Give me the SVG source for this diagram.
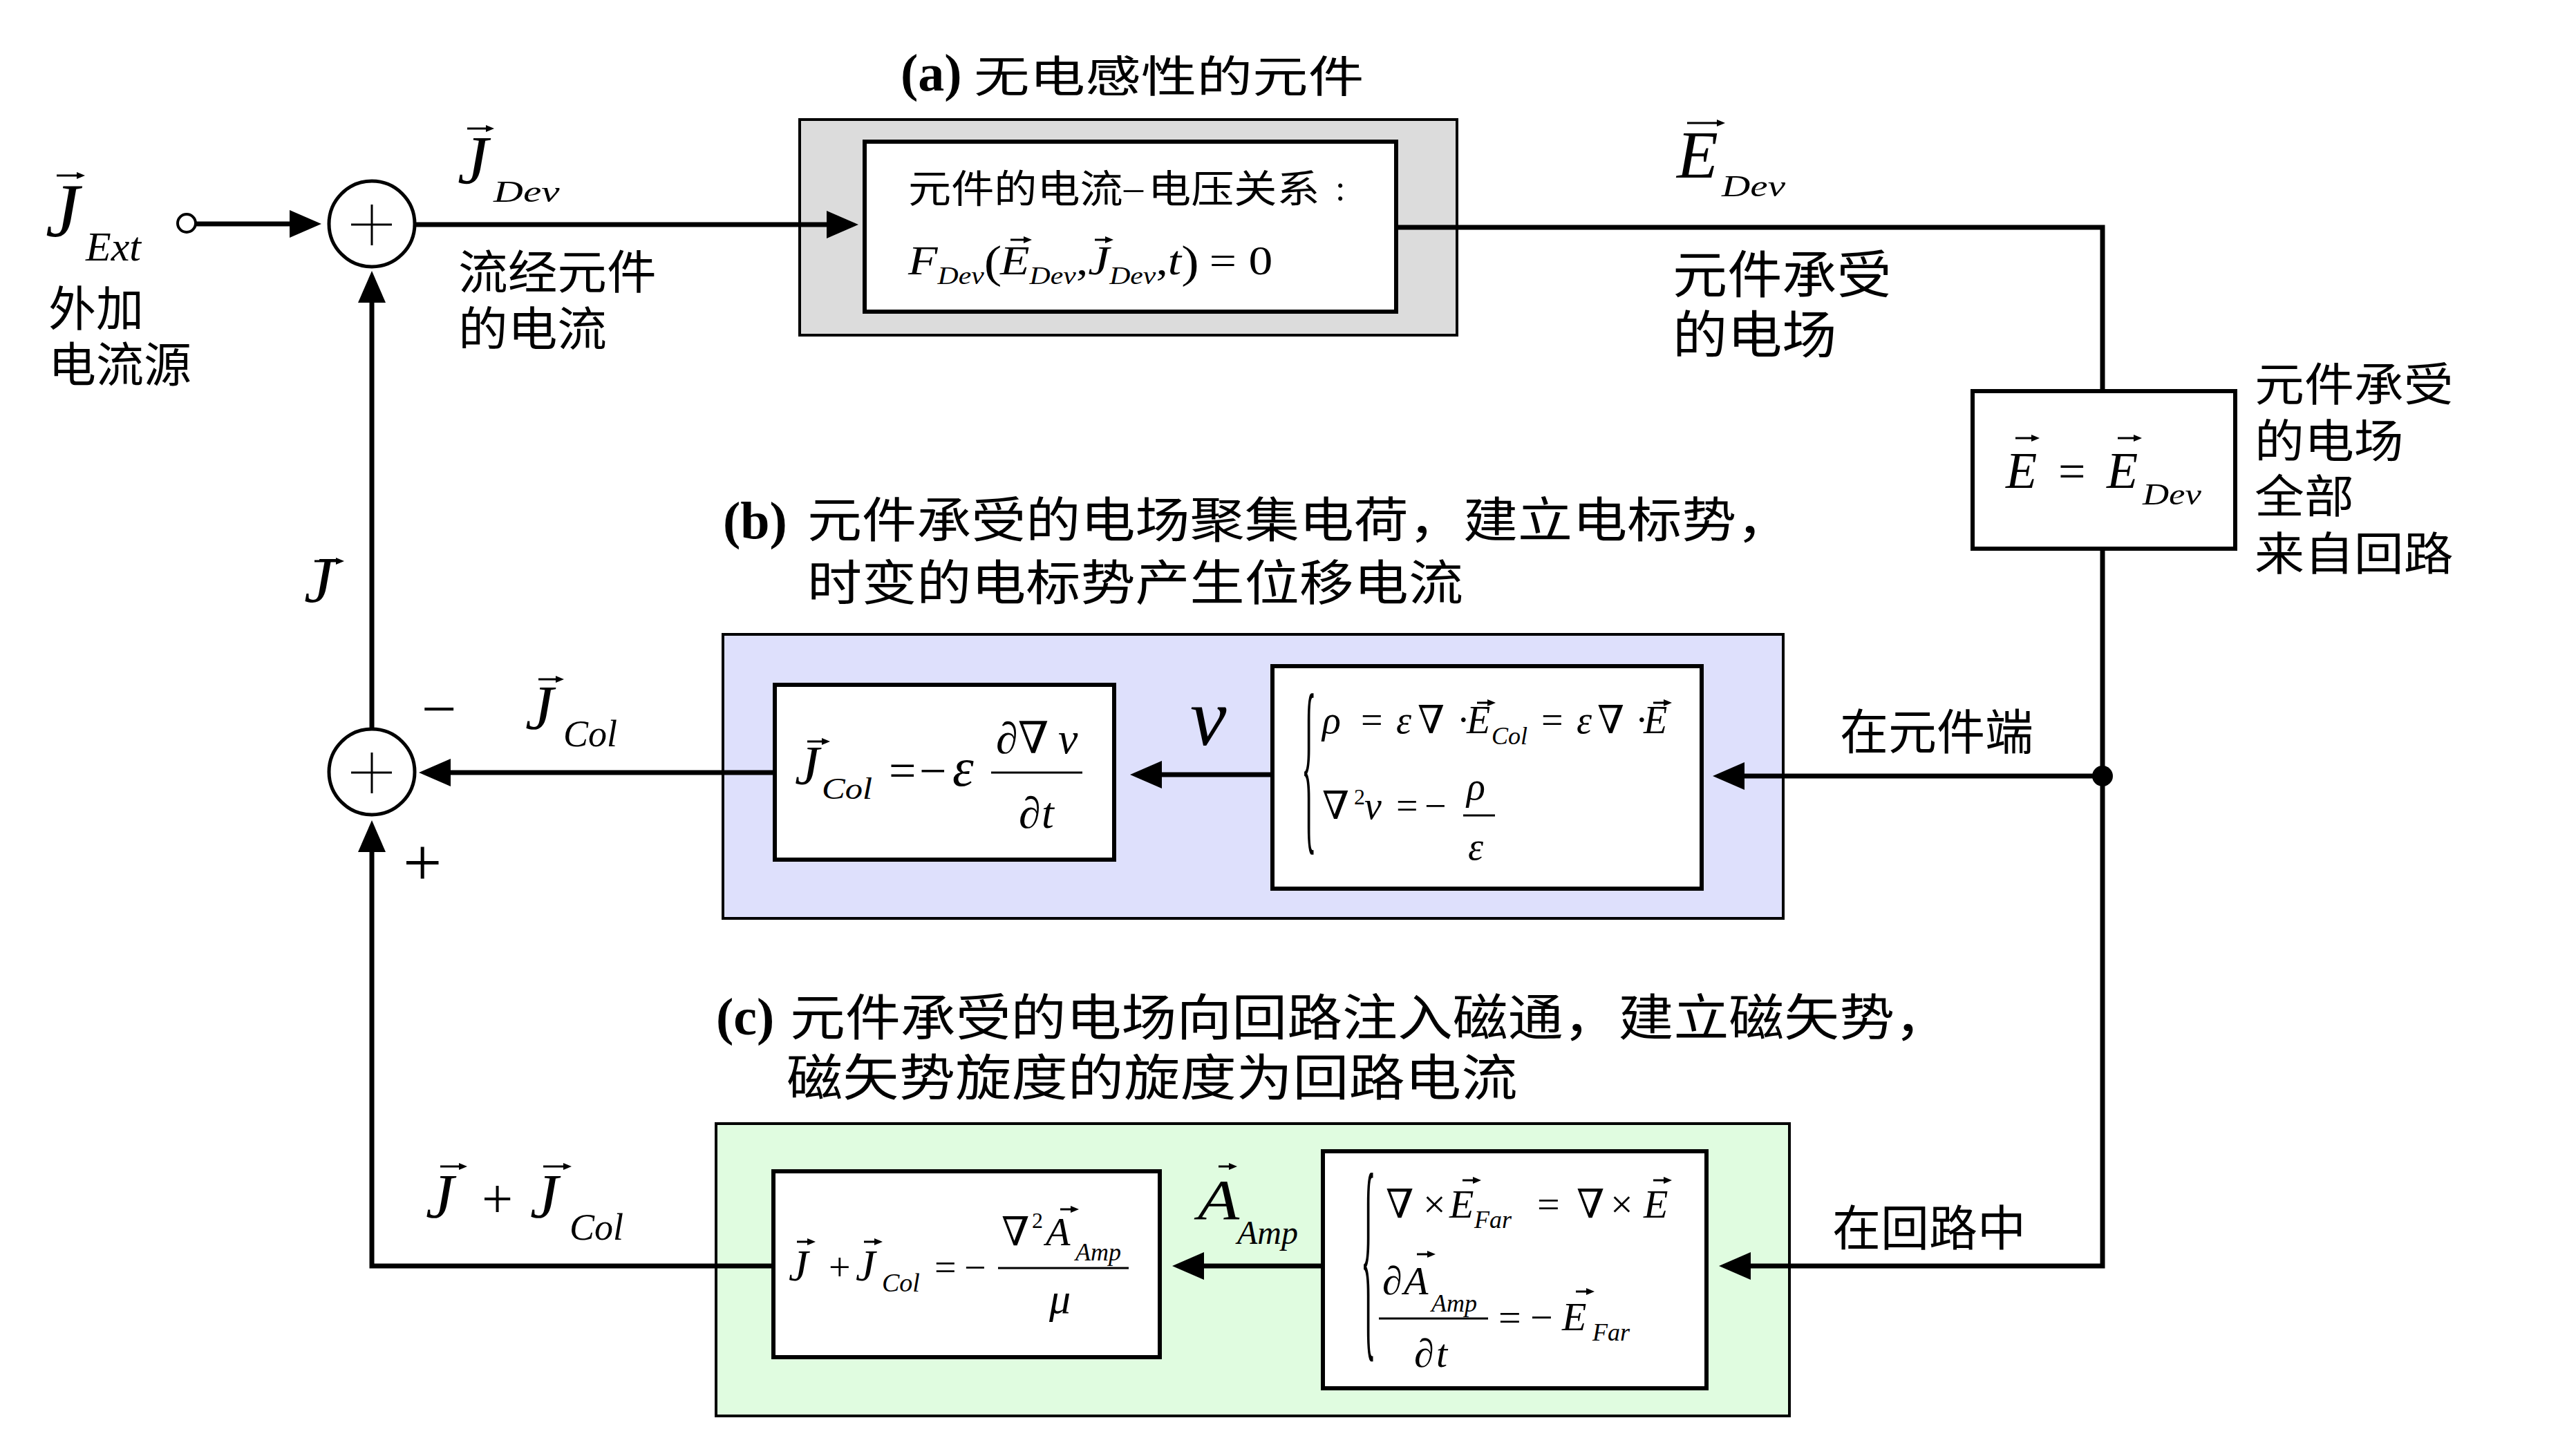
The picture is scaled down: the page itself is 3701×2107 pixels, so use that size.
<svg xmlns="http://www.w3.org/2000/svg" width="3701" height="2107" viewBox="0 0 3701 2107">
<defs>
<style>
.cn{font-family:"Noto Sans CJK SC",sans-serif;fill:#000}
.mi{font-family:"Liberation Serif","DejaVu Serif",serif;font-style:italic;fill:#000}
.mr{font-family:"Liberation Serif","DejaVu Serif",serif;fill:#000}
.tb{font-family:"Liberation Serif",serif;font-weight:bold;fill:#000}
.conn{fill:none;stroke:#000;stroke-width:7}
.vec{fill:none;stroke:#000;stroke-width:3}
.bar{fill:none;stroke:#000;stroke-width:3}
.outer{stroke:#000;stroke-width:4}
.inner{fill:#fff;stroke:#000;stroke-width:6}
.sum{fill:#fff;stroke:#000;stroke-width:5}
</style>
<marker id="arr" markerUnits="userSpaceOnUse" markerWidth="46" markerHeight="40" refX="0" refY="20" orient="auto" viewBox="0 0 46 40"><path d="M0 0L46 20L0 40Z" fill="#000"/></marker>
<marker id="vt" markerUnits="userSpaceOnUse" markerWidth="12" markerHeight="10" refX="1" refY="5" orient="auto" viewBox="0 0 12 10"><path d="M0 0L12 5L0 10Z" fill="#000"/></marker>
</defs>
<rect width="3701" height="2107" fill="#fff"/>

<!-- Block (a) -->
<g id="node-a">
<rect x="1157" y="173" width="951" height="312" fill="#dcdcdc" class="outer"/>
<rect x="1251" y="205" width="769" height="246" class="inner"/>
<text class="cn" font-size="56" transform="translate(1314,293) scale(1.11,1)">元件的电流</text>
<text class="mr" font-size="56" x="1626" y="290">–</text>
<text class="cn" font-size="56" transform="translate(1661,293) scale(1.11,1)">电压关系</text>
<text class="mr" font-size="52" x="1932" y="290">:</text>
<g transform="translate(1314,397) scale(1.16,1)">
<text class="mi" font-size="60" x="0" y="0">F</text>
<text class="mi" font-size="36" x="36.7" y="14">Dev</text>
<text class="mr" font-size="66" x="94.7" y="4">(</text>
<text class="mi" font-size="60" x="114.7" y="0">E</text>
<text class="mi" font-size="36" x="151.4" y="14">Dev</text>
<text class="mr" font-size="60" x="209.4" y="0">,</text>
<text class="mi" font-size="60" x="224.4" y="0">J</text>
<text class="mi" font-size="36" x="251" y="14">Dev</text>
<text class="mr" font-size="60" x="309" y="0">,</text>
<text class="mi" font-size="60" x="324" y="0">t</text>
<text class="mr" font-size="66" x="340.7" y="4">)</text>
<text class="mr" font-size="60" x="375.7" y="0">=</text>
<text class="mr" font-size="60" x="424.5" y="0">0</text>
</g>
<path class="vec" d="M1462 347h20" marker-end="url(#vt)"/>
<path class="vec" d="M1584 347h16" marker-end="url(#vt)"/>
</g>

<!-- E box -->
<g id="node-ebox">
<rect x="2854" y="566" width="380" height="228" fill="#fff" stroke="#000" stroke-width="6"/>
<text class="mi" font-size="74" x="2902" y="706">E</text>
<text class="mr" font-size="70" x="2978" y="706">=</text>
<text class="mi" font-size="74" x="3048" y="706">E</text>
<text class="mi" font-size="44" transform="translate(3100,730) scale(1.2,1)">Dev</text>
<path class="vec" d="M2916 634h24" marker-end="url(#vt)"/>
<path class="vec" d="M3064 634h24" marker-end="url(#vt)"/>
</g>

<!-- Block (b) -->
<g id="node-b">
<rect x="1046" y="918" width="1534" height="411" fill="#dee0fc" class="outer"/>
<rect x="1121" y="991" width="491" height="253" class="inner"/>
<rect x="1841" y="964" width="621" height="322" class="inner"/>
<text class="mi" font-size="80" x="1150" y="1135">J</text>
<text class="mi" font-size="44" transform="translate(1189,1156) scale(1.15,1)">Col</text>
<path class="vec" d="M1168 1073h22" marker-end="url(#vt)"/>
<text class="mr" font-size="70" x="1286" y="1139">=</text>
<text class="mr" font-size="70" x="1330" y="1139">−</text>
<text class="mi" font-size="78" x="1378" y="1137">ε</text>
<path class="bar" d="M1434 1118H1566"/>
<text class="mr" font-size="64" x="1441" y="1090">∂∇</text>
<text class="mi" font-size="64" x="1531" y="1090">v</text>
<text class="mr" font-size="64" x="1474" y="1198">∂</text>
<text class="mi" font-size="64" x="1507" y="1198">t</text>
<text class="mr" font-size="60" transform="translate(1883,1199) scale(0.75,4.7)">{</text>
<text class="mi" font-size="56" x="1913" y="1061">ρ</text>
<text class="mr" font-size="56" x="1969" y="1061">=</text>
<text class="mi" font-size="56" x="2020" y="1061">ε</text>
<text class="mr" font-size="56" x="2051" y="1061">∇</text>
<text class="mr" font-size="56" x="2108" y="1061">·</text>
<text class="mi" font-size="56" x="2122" y="1061">E</text>
<text class="mi" font-size="36" x="2158" y="1077">Col</text>
<text class="mr" font-size="56" x="2230" y="1061">=</text>
<text class="mi" font-size="56" x="2281" y="1061">ε</text>
<text class="mr" font-size="56" x="2311" y="1061">∇</text>
<text class="mr" font-size="56" x="2366" y="1061">·</text>
<text class="mi" font-size="56" x="2378" y="1061">E</text>
<path class="vec" d="M2137 1017h16" marker-end="url(#vt)"/>
<path class="vec" d="M2392 1017h16" marker-end="url(#vt)"/>
<text class="mr" font-size="56" x="1913" y="1185">∇</text>
<text class="mr" font-size="32" x="1959" y="1164">2</text>
<text class="mi" font-size="56" x="1974" y="1185">v</text>
<text class="mr" font-size="56" x="2020" y="1185">=</text>
<text class="mr" font-size="56" x="2061" y="1185">−</text>
<path class="bar" d="M2117 1180H2163"/>
<text class="mi" font-size="56" x="2122" y="1157">ρ</text>
<text class="mi" font-size="56" x="2124" y="1244">ε</text>
</g>

<!-- Block (c) -->
<g id="node-c">
<rect x="1036" y="1626" width="1553" height="423" fill="#e0fce0" class="outer"/>
<rect x="1119" y="1695" width="559" height="269" class="inner"/>
<rect x="1914" y="1666" width="555" height="343" class="inner"/>
<text class="mi" font-size="64" x="1141" y="1853">J</text>
<text class="mr" font-size="56" x="1199" y="1853">+</text>
<text class="mi" font-size="64" x="1238" y="1853">J</text>
<text class="mi" font-size="38" x="1276" y="1869">Col</text>
<path class="vec" d="M1153 1797h16" marker-end="url(#vt)"/>
<path class="vec" d="M1250 1797h16" marker-end="url(#vt)"/>
<text class="mr" font-size="56" x="1352" y="1853">=</text>
<text class="mr" font-size="56" x="1395" y="1853">−</text>
<path class="bar" d="M1444 1835H1633"/>
<text class="mr" font-size="58" x="1449" y="1802">∇</text>
<text class="mr" font-size="32" x="1493" y="1777">2</text>
<text class="mi" font-size="58" x="1513" y="1802">A</text>
<text class="mi" font-size="36" x="1556" y="1824">Amp</text>
<path class="vec" d="M1534 1750h16" marker-end="url(#vt)"/>
<text class="mi" font-size="62" x="1518" y="1900">μ</text>
<text class="mr" font-size="60" transform="translate(1969,1926) scale(0.75,5.5)">{</text>
<text class="mr" font-size="58" x="2005" y="1762">∇</text>
<text class="mr" font-size="58" x="2059" y="1762">×</text>
<text class="mi" font-size="58" x="2097" y="1762">E</text>
<text class="mi" font-size="36" x="2133" y="1777">Far</text>
<text class="mr" font-size="58" x="2224" y="1762">=</text>
<text class="mr" font-size="58" x="2281" y="1762">∇</text>
<text class="mr" font-size="58" x="2330" y="1762">×</text>
<text class="mi" font-size="58" x="2378" y="1762">E</text>
<path class="vec" d="M2116 1708h16" marker-end="url(#vt)"/>
<path class="vec" d="M2392 1708h16" marker-end="url(#vt)"/>
<text class="mr" font-size="58" x="2000" y="1873">∂</text>
<text class="mi" font-size="58" x="2031" y="1873">A</text>
<text class="mi" font-size="36" x="2071" y="1898">Amp</text>
<path class="vec" d="M2050 1815h16" marker-end="url(#vt)"/>
<path class="bar" d="M1995 1908H2153"/>
<text class="mr" font-size="58" x="2046" y="1978">∂</text>
<text class="mi" font-size="58" x="2078" y="1978">t</text>
<text class="mr" font-size="58" x="2168" y="1926">=</text>
<text class="mr" font-size="58" x="2214" y="1926">−</text>
<text class="mi" font-size="58" x="2260" y="1925">E</text>
<text class="mi" font-size="36" x="2304" y="1940">Far</text>
<path class="vec" d="M2280 1869h16" marker-end="url(#vt)"/>
</g>

<!-- Summing junctions -->
<g id="node-sum1">
<circle cx="538" cy="324" r="62" class="sum"/>
<path d="M508 325H567M538 296V355" stroke="#000" stroke-width="3"/>
</g>
<g id="node-sum2">
<circle cx="538" cy="1117" r="62" class="sum"/>
<path d="M508 1118H567M538 1089V1148" stroke="#000" stroke-width="3"/>
</g>

<!-- Connectors -->
<g id="connectors">
<circle cx="270" cy="323" r="13" fill="#fff" stroke="#000" stroke-width="4"/>
<path class="conn" d="M283 324H419" marker-end="url(#arr)"/>
<path class="conn" d="M600 325H1196" marker-end="url(#arr)"/>
<path class="conn" d="M2020 329H3042V566"/>
<path class="conn" d="M3042 794V1832H2533" marker-end="url(#arr)"/>
<circle cx="3042" cy="1123" r="15" fill="#000"/>
<path class="conn" d="M3042 1123H2524" marker-end="url(#arr)"/>
<path class="conn" d="M1841 1121H1681" marker-end="url(#arr)"/>
<path class="conn" d="M1121 1118H652" marker-end="url(#arr)"/>
<path class="conn" d="M1914 1832H1742" marker-end="url(#arr)"/>
<path class="conn" d="M1119 1832H538V1233" marker-end="url(#arr)"/>
<path class="conn" d="M538 1055V438" marker-end="url(#arr)"/>
</g>

<!-- Titles -->
<g id="titles">
<text class="tb" font-size="76" x="1303" y="131">(a)</text>
<text class="cn" font-size="63" transform="translate(1409,133) scale(1.28,1)">无电感性的元件</text>
<text class="tb" font-size="76" x="1046" y="779">(b)</text>
<text class="cn" font-size="70" transform="translate(1168,778) scale(1.13,1)">元件承受的电场聚集电荷，建立电标势，</text>
<text class="cn" font-size="70" transform="translate(1168,869) scale(1.13,1)">时变的电标势产生位移电流</text>
<text class="tb" font-size="76" x="1036" y="1497">(c)</text>
<text class="cn" font-size="72" transform="translate(1143,1498) scale(1.11,1)">元件承受的电场向回路注入磁通，建立磁矢势，</text>
<text class="cn" font-size="72" transform="translate(1138,1585) scale(1.13,1)">磁矢势旋度的旋度为回路电流</text>
</g>

<!-- Labels -->
<g id="labels">
<text class="mi" font-size="110" x="66" y="342">J</text>
<path class="vec" d="M82 254h30" marker-end="url(#vt)"/>
<text class="mi" font-size="60" x="124" y="377">Ext</text>
<text class="cn" font-size="69" x="70" y="472">外加</text>
<text class="cn" font-size="69" x="70" y="553">电流源</text>

<text class="mi" font-size="100" x="662" y="265">J</text>
<path class="vec" d="M676 186h28" marker-end="url(#vt)"/>
<text class="mi" font-size="44" transform="translate(714,292) scale(1.35,1)">Dev</text>
<text class="cn" font-size="67" transform="translate(663,418) scale(1.07,1)">流经元件</text>
<text class="cn" font-size="67" transform="translate(663,500) scale(1.07,1)">的电流</text>

<text class="mi" font-size="98" x="2426" y="257">E</text>
<path class="vec" d="M2441 178h44" marker-end="url(#vt)"/>
<text class="mi" font-size="44" transform="translate(2491,284) scale(1.3,1)">Dev</text>
<text class="cn" font-size="74" transform="translate(2420,424) scale(1.07,1)">元件承受</text>
<text class="cn" font-size="74" transform="translate(2420,511) scale(1.07,1)">的电场</text>

<text class="cn" font-size="66" transform="translate(3262,580) scale(1.09,1)">元件承受</text>
<text class="cn" font-size="66" transform="translate(3262,662) scale(1.09,1)">的电场</text>
<text class="cn" font-size="66" transform="translate(3262,742) scale(1.09,1)">全部</text>
<text class="cn" font-size="66" transform="translate(3262,825) scale(1.09,1)">来自回路</text>

<text class="mi" font-size="96" x="440" y="872">J</text>
<path class="vec" d="M455 812h32" marker-end="url(#vt)"/>

<text class="mr" font-size="90" x="610" y="1056">−</text>
<text class="mi" font-size="92" x="760" y="1055">J</text>
<path class="vec" d="M779 983h26" marker-end="url(#vt)"/>
<text class="mi" font-size="54" x="815" y="1080">Col</text>
<text class="mr" font-size="100" x="583" y="1282">+</text>

<text class="mi" font-size="118" x="1722" y="1078">v</text>
<text class="cn" font-size="70" x="2662" y="1085">在元件端</text>

<text class="mi" font-size="92" x="616" y="1762">J</text>
<path class="vec" d="M637 1688h28" marker-end="url(#vt)"/>
<text class="mr" font-size="80" x="697" y="1762">+</text>
<text class="mi" font-size="92" x="767" y="1762">J</text>
<path class="vec" d="M786 1688h30" marker-end="url(#vt)"/>
<text class="mi" font-size="54" x="824" y="1794">Col</text>

<text class="mi" font-size="82" transform="translate(1733,1764) scale(1.2,1)">A</text>
<path class="vec" d="M1763 1688h16" marker-end="url(#vt)"/>
<text class="mi" font-size="48" x="1790" y="1800">Amp</text>
<text class="cn" font-size="70" x="2651" y="1803">在回路中</text>
</g>
</svg>
